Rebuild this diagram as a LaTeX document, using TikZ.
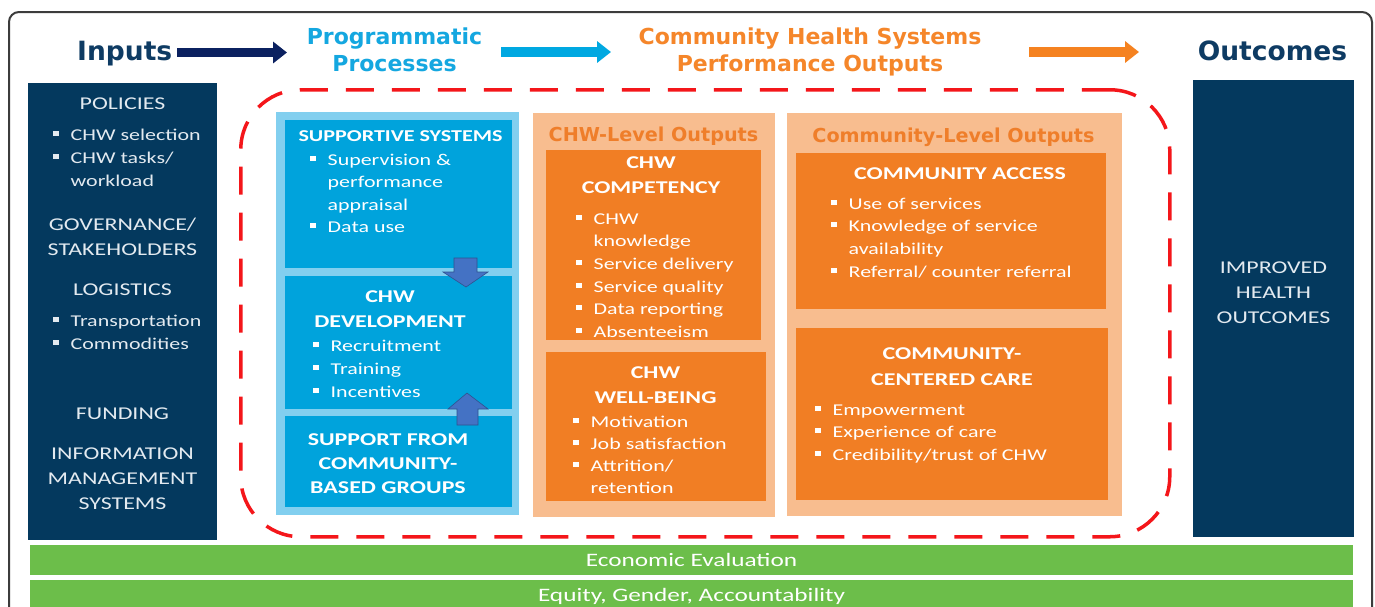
\documentclass[tikz,border=0pt]{standalone}
\usepackage{fontspec}
\usetikzlibrary{arrows.meta}
\newfontfamily\bodyf[FakeStretch=1.33]{Carlito}
\newfontfamily\headf{DejaVu Sans}

\definecolor{navy}{HTML}{04395E}
\definecolor{titlenavy}{HTML}{0E3B63}
\definecolor{arrnavy}{HTML}{0B2160}
\definecolor{cyanT}{HTML}{14A7E0}
\definecolor{cyanA}{HTML}{00A8E1}
\definecolor{orangeT}{HTML}{F5862A}
\definecolor{orangeA}{HTML}{F58220}
\definecolor{lightblue}{HTML}{82CFEF}
\definecolor{boxblue}{HTML}{00A3DC}
\definecolor{blockfill}{HTML}{4472C4}
\definecolor{blockedge}{HTML}{2F528F}
\definecolor{peach}{HTML}{F8BD8F}
\definecolor{boxorange}{HTML}{F17E24}
\definecolor{peachtitle}{HTML}{EF7E2A}
\definecolor{barGreen}{HTML}{6CBE4A}
\definecolor{dashred}{HTML}{F4161A}
\definecolor{framegray}{HTML}{3C3C3C}
\definecolor{pale}{HTML}{E3EAF0}

% bullet square and hanging indent
\newcommand\sq{\makebox[17.5pt][l]{\raisebox{4.5pt}{\rule{5.5pt}{5pt}}}}
\newcommand\ind{\hspace*{17.5pt}}

\tikzset{
  panel/.style={inner sep=0, outer sep=0, anchor=north west, draw=none, fill=#1},
  lhd/.style={inner sep=0, anchor=north, align=center, text=pale, font=\fontsize{18}{25}\bodyf},
  lbul/.style={inner sep=0, anchor=north west, align=left, text=pale, font=\fontsize{16.5}{23}\bodyf},
  bhd/.style={inner sep=0, anchor=north, align=center, text=white, font=\fontsize{18}{25}\bodyf\bfseries},
  bul/.style={inner sep=0, anchor=north west, align=left, text=white, font=\fontsize{16.5}{23}\bodyf},
  ptitle/.style={inner sep=0, anchor=base, text=peachtitle, font=\fontsize{19.2}{22}\headf\bfseries},
  toptitle/.style={inner sep=0, anchor=north, align=center, font=\fontsize{22}{27.5}\headf\bfseries},
  bigtitle/.style={inner sep=0, text=titlenavy, font=\fontsize{26.5}{30}\headf\bfseries},
  flow/.style={line width=9.5pt, draw=#1, -{Triangle[length=14pt,width=21pt]}},
  block/.style={fill=blockfill, draw=blockedge, line width=0.6pt, line join=miter},
  bartext/.style={inner sep=0, anchor=base, text=white, font=\fontsize{19}{22}\bodyf}
}

\begin{document}
\begin{tikzpicture}[x=1pt, y=-1pt]
\useasboundingbox (0,0) rectangle (1375,606);
\fill[white] (0,0) rectangle (1375,606);

% outer frame
\draw[framegray, line width=2pt, rounded corners=10pt] (9,12) rectangle (1372,640);

% header row
\node[bigtitle, anchor=base west] (inputs) at (77,60) {Inputs};
\node[toptitle, text=cyanT] (prog) at (394.5,24.75) {\strut Programmatic\\Processes};
\node[toptitle, text=orangeT] (chs) at (810,24.75) {\strut Community Health Systems\\Performance Outputs};
\node[bigtitle, anchor=base] (outc) at (1272.5,60) {Outcomes};

\coordinate (a1s) at (177,52.5); \coordinate (a1e) at (287,52.5);
\coordinate (a2s) at (501,52);   \coordinate (a2e) at (611,52);
\coordinate (a3s) at (1029,52);  \coordinate (a3e) at (1139,52);
\draw[flow=arrnavy] (a1s) -- (a1e);
\draw[flow=cyanA] (a2s) -- (a2e);
\draw[flow=orangeA] (a3s) -- (a3e);

% inputs column
\node[panel=navy, minimum width=189, minimum height=457] (inbox) at (28,83) {};
\node[lhd, anchor=base] (pol) at (122.5,109) {POLICIES};
\node[lbul] (polb) at (53,123.9) {\strut\sq CHW selection\\\sq CHW tasks/\\\ind workload};
\node[lhd] (gov) at (122.5,212.5) {\strut GOVERNANCE/\\STAKEHOLDERS};
\node[lhd, anchor=base] (logi) at (122.5,295) {LOGISTICS};
\node[lbul] (logb) at (53,309.9) {\strut\sq Transportation\\\sq Commodities};
\node[lhd, anchor=base] (fund) at (122.5,419) {FUNDING};
\node[lhd] (ims) at (122.5,441.5) {\strut INFORMATION\\MANAGEMENT\\SYSTEMS};

% outcomes column
\node[panel=navy, minimum width=161, minimum height=457] (outbox) at (1193,80) {};
\node[lhd] (imp) at (1273.5,255.5) {\strut IMPROVED\\HEALTH\\OUTCOMES};

% dashed boundary of the health system
\node[inner sep=0, anchor=north west, minimum width=929, minimum height=447,
      draw=dashred, line width=3.5pt, dash pattern=on 28pt off 18pt,
      rounded corners=60pt] (ring) at (239,88) {};

% programmatic processes
\node[panel=lightblue, minimum width=243, minimum height=403] (proc) at (276,112) {};
\node[panel=boxblue, minimum width=227, minimum height=148] (sup) at (285,120) {};
\node[panel=boxblue, minimum width=227, minimum height=133] (dev) at (285,276) {};
\node[panel=boxblue, minimum width=227, minimum height=91] (cbg) at (285,416) {};

\node[bhd, anchor=base, font=\fontsize{16.6}{20}\bodyf\bfseries] (supt) at (400.5,141) {SUPPORTIVE SYSTEMS};
\node[bul, font=\fontsize{16.5}{22.5}\bodyf] (supb) at (310,149.25)
  {\strut\sq Supervision \&\\\ind performance\\\ind appraisal\\\sq Data use};
\node[bhd] (devt) at (390,284.5) {\strut CHW\\DEVELOPMENT};
\node[bul] (devb) at (313,334.9) {\strut\sq Recruitment\\\sq Training\\\sq Incentives};
\node[bhd, font=\fontsize{18}{24}\bodyf\bfseries] (cbgt) at (388,428.2)
  {\strut SUPPORT FROM\\COMMUNITY-\\BASED GROUPS};

% block arrows between the process boxes
\path[block] (454,258) -- (477,258) -- (477,272) -- (488,272) -- (466,287)
  -- (443,272) -- (454,272) -- cycle;
\path[block] (457,425) -- (478,425) -- (478,409) -- (488,409) -- (467,393)
  -- (448,409) -- (457,409) -- cycle;

% CHW-level outputs
\node[panel=peach, minimum width=242, minimum height=404] (chwl) at (533,113) {};
\node[ptitle] (chwlt) at (653.5,141) {CHW-Level Outputs};
\node[panel=boxorange, minimum width=215, minimum height=190] (comp) at (546,150) {};
\node[panel=boxorange, minimum width=220, minimum height=149] (wb) at (546,352) {};
\node[bhd] (compt) at (651,150.5) {\strut CHW\\COMPETENCY};
\node[bul, font=\fontsize{16.5}{22.6}\bodyf] (compb) at (576,208.2)
  {\strut\sq CHW\\\ind knowledge\\\sq Service delivery\\\sq Service quality\\\sq Data reporting\\\sq Absenteeism};
\node[bhd] (wbt) at (655.5,360.5) {\strut CHW\\WELL-BEING};
\node[bul, font=\fontsize{16.5}{22}\bodyf] (wbb) at (573,411.6)
  {\strut\sq Motivation\\\sq Job satisfaction\\\sq Attrition/\\\ind retention};

% community-level outputs
\node[panel=peach, minimum width=335, minimum height=403] (coml) at (787,113) {};
\node[ptitle] (comlt) at (953.5,142) {Community-Level Outputs};
\node[panel=boxorange, minimum width=310, minimum height=156] (acc) at (796,153) {};
\node[panel=boxorange, minimum width=312, minimum height=172] (ccc) at (796,328) {};
\node[bhd, anchor=base] (acct) at (960,179) {COMMUNITY ACCESS};
\node[bul, font=\fontsize{16.5}{22.7}\bodyf] (accb) at (831,193.1)
  {\strut\sq Use of services\\\sq Knowledge of service\\\ind availability\\\sq Referral/ counter referral};
\node[bhd, font=\fontsize{18}{26}\bodyf\bfseries] (ccct) at (952,340.8) {\strut COMMUNITY-\\CENTERED CARE};
\node[bul, font=\fontsize{16.5}{22.5}\bodyf] (cccb) at (815,399.25)
  {\strut\sq Empowerment\\\sq Experience of care\\\sq Credibility/trust of CHW};

% cross-cutting bars
\node[panel=barGreen, minimum width=1323, minimum height=30] (econ) at (30,545) {};
\node[panel=barGreen, minimum width=1323, minimum height=40] (equ) at (30,580) {};
\node[bartext] (econt) at (691.5,566) {Economic Evaluation};
\node[bartext] (equt) at (691.5,601) {Equity, Gender, Accountability};
\end{tikzpicture}
\end{document}
